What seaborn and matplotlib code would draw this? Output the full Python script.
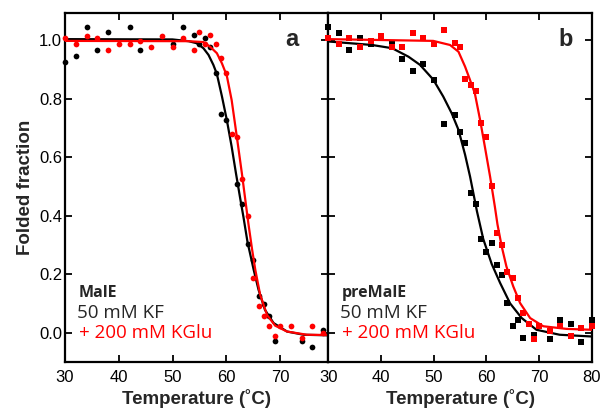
import matplotlib
matplotlib.use("Agg")
import matplotlib.pyplot as plt
import seaborn as sns

# panel a: MalE (circles)
a_black_T = [30, 32, 34, 36, 38, 42, 44, 50, 52, 54, 55, 56, 57, 58, 59, 60, 62, 63, 64, 65, 66, 67, 68, 69, 74, 76, 78]
a_black_y = [0.926, 0.945, 1.045, 0.966, 1.026, 1.045, 0.966, 0.986, 1.045, 1.017, 0.986, 1.006, 0.975, 0.888,
             0.747, 0.727, 0.507, 0.44, 0.303, 0.247, 0.124, 0.098, 0.056, -0.03, -0.03, -0.05, 0.01]
a_red_T = [30, 32, 34, 36, 38, 40, 42, 44, 46, 48, 50, 52, 54, 55, 56, 57, 58, 59, 60, 61, 62, 63, 64, 65, 66, 67,
           68, 69, 70, 72, 74, 76, 78]
a_red_y = [1.006, 0.985, 1.015, 1.006, 0.966, 0.985, 0.985, 0.997, 0.975, 1.015, 0.975, 1.006, 0.966, 1.026, 0.985,
           1.017, 0.986, 0.937, 0.888, 0.678, 0.667, 0.526, 0.40, 0.186, 0.09, 0.056, 0.022, -0.01, 0.022, 0.022,
           -0.018, 0.022, 0.0]

# fitted curves
a_black_fitT = [30, 50, 53, 54.5, 55.75, 56.7, 57.6, 58.25, 59.2, 60.1, 61.0, 61.8, 62.6, 63.2, 63.95, 65.1, 66.0,
                67.2, 68.8, 71.3, 74.4, 79]
a_black_fit = [1.003, 1.002, 0.996, 0.989, 0.972, 0.949, 0.915, 0.884, 0.807, 0.727, 0.636, 0.545, 0.458, 0.395,
               0.31, 0.215, 0.147, 0.078, 0.033, 0.004, -0.007, -0.009]
a_red_fitT = [30, 53, 55.75, 57.0, 58.25, 59.2, 60.1, 61.0, 61.7, 62.3, 62.9, 63.5, 64.1, 64.8, 65.4, 66.3, 67.6,
              69.1, 71.3, 75, 79]
a_red_fit = [0.997, 0.996, 0.993, 0.977, 0.955, 0.92, 0.878, 0.795, 0.704, 0.625, 0.545, 0.46, 0.375, 0.285, 0.215,
             0.13, 0.06, 0.024, 0.004, -0.007, -0.008]

# panel b: preMalE (squares)
b_black_T = [30, 32, 34, 36, 38, 42, 44, 46, 48, 50, 52, 54, 55, 56, 57, 58, 59, 60, 61, 62, 63, 64, 65, 66, 67,
             69, 72, 74, 76, 78, 80]
b_black_y = [1.045, 1.025, 0.966, 1.006, 0.985, 0.985, 0.934, 0.894, 0.917, 0.863, 0.714, 0.744, 0.687, 0.647,
             0.477, 0.439, 0.32, 0.277, 0.308, 0.23, 0.198, 0.103, 0.022, 0.044, -0.018, -0.007, -0.022, 0.042,
             0.03, -0.032, 0.042]
b_red_T = [30, 32, 34, 36, 38, 40, 42, 44, 46, 48, 50, 52, 54, 55, 56, 57, 58, 59, 60, 61, 62, 63, 64, 65, 66, 67,
           68, 69, 70, 72, 74, 76, 78, 80]
b_red_y = [1.006, 0.985, 1.006, 0.975, 0.997, 1.015, 0.975, 0.975, 1.025, 1.006, 0.985, 1.034, 0.991, 0.975, 0.866,
           0.846, 0.827, 0.716, 0.667, 0.502, 0.34, 0.30, 0.209, 0.187, 0.118, 0.067, 0.031, -0.022, 0.024, 0.007,
           0.024, -0.01, 0.016, 0.024]

b_black_fitT = [30, 38.3, 42.1, 45.2, 47.4, 49.9, 51.8, 53.4, 54.7, 55.95, 56.9, 58.2, 59.4, 61.0, 62.6, 64.5,
                66.7, 69.5, 73.9, 80]
b_black_fit = [0.995, 0.983, 0.972, 0.943, 0.915, 0.865, 0.807, 0.75, 0.693, 0.608, 0.533, 0.415, 0.32, 0.235,
               0.17, 0.1, 0.05, 0.01, -0.007, -0.013]
b_red_fitT = [30, 49.9, 53.1, 54.7, 55.95, 56.9, 57.8, 58.8, 59.7, 60.7, 61.6, 62.1, 62.9, 63.8, 65.1, 66.4, 68.3,
              70.8, 75.2, 80]
b_red_fit = [1.003, 0.997, 0.983, 0.96, 0.909, 0.863, 0.818, 0.727, 0.636, 0.533, 0.431, 0.37, 0.295, 0.226, 0.158,
             0.101, 0.05, 0.022, 0.013, 0.01]

sns.set_style("ticks")
plt.rcParams['font.family'] = ['Liberation Sans', 'DejaVu Sans']

fig, (ax1, ax2) = plt.subplots(1, 2, figsize=(6.02, 4.09), dpi=100)
fig.subplots_adjust(left=0.108, right=0.983, top=0.968, bottom=0.115, wspace=0)

panels = [
    (ax1, a_black_T, a_black_y, a_red_T, a_red_y, a_black_fitT, a_black_fit, a_red_fitT, a_red_fit, 'o', (30, 79)),
    (ax2, b_black_T, b_black_y, b_red_T, b_red_y, b_black_fitT, b_black_fit, b_red_fitT, b_red_fit, 's', (30, 80)),
]

for ax, bT, by, rT, ry, bfT, bf, rfT, rf, mk, xl in panels:
    sns.scatterplot(x=bT, y=by, ax=ax, color='black', marker=mk, s=17, linewidth=0, clip_on=False, zorder=3)
    sns.lineplot(x=bfT, y=bf, ax=ax, color='black', linewidth=1.6, sort=False, estimator=None, zorder=4)
    sns.scatterplot(x=rT, y=ry, ax=ax, color='#ff0000', marker=mk, s=17, linewidth=0, clip_on=False, zorder=5)
    sns.lineplot(x=rfT, y=rf, ax=ax, color='#ff0000', linewidth=1.6, sort=False, estimator=None, zorder=6)
    ax.set_xlim(*xl)
    ax.set_ylim(-0.1, 1.092)
    ax.set_xticks([30, 40, 50, 60, 70, 80])
    ax.set_yticks([0.0, 0.2, 0.4, 0.6, 0.8, 1.0])
    ax.tick_params(direction='in', length=5, width=1.3, top=True, right=True, labelsize=12, colors='black')
    ax.tick_params(axis='x', pad=6)
    ax.tick_params(axis='y', pad=2)
    for sp in ax.spines.values():
        sp.set_linewidth(1.6)
        sp.set_color('black')
    ax.set_xlabel('Temperature (˚C)', fontsize=13.5, fontweight='bold', labelpad=3)

ax1.set_xlim(30, 79)
ax1.set_xticks([30, 40, 50, 60, 70])
ax1.set_ylabel('Folded fraction', fontsize=13.5, fontweight='bold', labelpad=4)
ax2.set_ylabel('')
ax2.tick_params(labelleft=False)

ax1.text(0.862, 0.905, 'a', transform=ax1.transAxes, fontsize=17, fontweight='bold', ha='center')
ax2.text(0.90, 0.905, 'b', transform=ax2.transAxes, fontsize=17, fontweight='bold', ha='center')

fam = ['Open Sans', 'DejaVu Sans']
fig.text(79 / 602, 1 - 297 / 409, 'MalE', fontsize=11.5, fontweight='bold', family=fam)
fig.text(77 / 602, 1 - 318 / 409, '50 mM KF', fontsize=13.5, family=fam)
fig.text(79 / 602, 1 - 338 / 409, '+ 200 mM KGlu', fontsize=13.5, color='#ff0000', family=fam)
fig.text(342 / 602, 1 - 297 / 409, 'preMalE', fontsize=11.5, fontweight='bold', family=fam)
fig.text(340 / 602, 1 - 318 / 409, '50 mM KF', fontsize=13.5, family=fam)
fig.text(342 / 602, 1 - 338 / 409, '+ 200 mM KGlu', fontsize=13.5, color='#ff0000', family=fam)

plt.savefig('out.png', dpi=100)
